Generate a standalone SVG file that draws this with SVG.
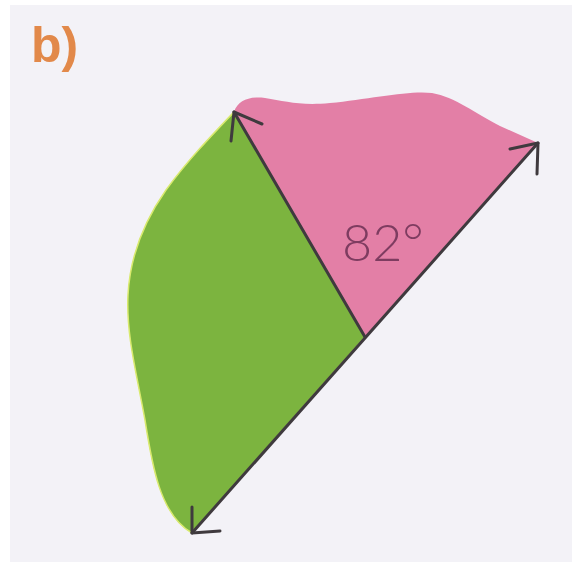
<svg xmlns="http://www.w3.org/2000/svg" width="572" height="562" viewBox="0 0 572 562">
  <defs>
    <style>
      .ln { stroke: #3f3a3e; stroke-width: 3; fill: none; stroke-linecap: round; stroke-linejoin: round; }
      .label { font-family: "Liberation Sans", Arial, sans-serif; }
      .thin { font-family: Lato, "Open Sans", "Liberation Sans", sans-serif; font-weight: 300; }
    </style>
  </defs>
  <rect x="0" y="0" width="572" height="562" fill="#ffffff"/>
  <rect x="10" y="5" width="562" height="557" fill="#f3f2f7"/>
  <text class="label" x="31" y="62" font-size="50" font-weight="bold" fill="#e2894a">b)</text>
  <g id="pink">
    <path d="M234,112 C238,100 250,96 265,98 C285,101 300,106 330,103 C370,99 410,90 432,93 C455,97 475,113 500,126 L538,143 L365,337 Z" fill="#e37fa6"/>
  </g>
  <g id="green">
    <path d="M234,112 C212,135 188,160 166,190 C145,220 130,255 128,295 C126,335 137,375 145,420 C152,465 160,515 192,533 L365,337 Z" fill="#7cb43f" stroke="#d9ea6e" stroke-width="1.5"/>
  </g>
  <g id="connectors">
    <path class="ln" d="M192,533 L538,143"/>
    <path class="ln" d="M365,337 L234,112"/>
    <path class="ln" d="M231,141 L234,112 L262,124"/>
    <path class="ln" d="M510,149 L538,143 L537,174"/>
    <path class="ln" d="M192,507 L192,533 L220,531"/>
  </g>
  <g id="angle">
    <text class="thin" x="342" y="261" font-size="52" fill="#7e3c60">82°</text>
  </g>
</svg>
